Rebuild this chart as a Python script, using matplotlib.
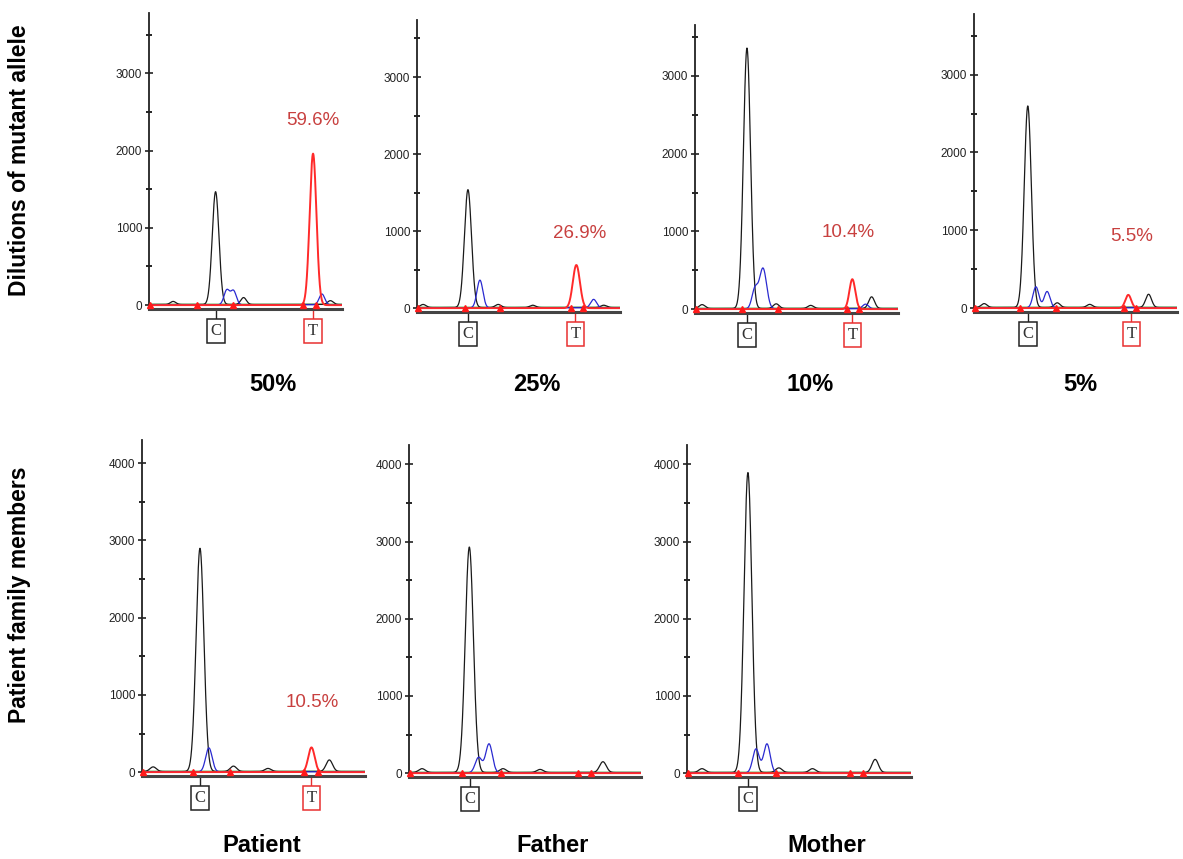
import numpy as np
import matplotlib
matplotlib.use("Agg")
import matplotlib.pyplot as plt
import matplotlib.transforms as mtransforms
from matplotlib.ticker import MultipleLocator

plt.rcParams['font.family'] = ['Liberation Sans', 'DejaVu Sans']

# ---------------- data ----------------
panel_titles = ["50%", "25%", "10%", "5%", "Patient", "Father", "Mother"]
row_titles = ["Dilutions of mutant allele", "Patient family members"]
percent_labels = ["59.6%", "26.9%", "10.4%", "5.5%", "10.5%", None, None]

# black channel (C allele + minor peaks): centres, heights
black_pos = [[12.5, 34.5, 49.0, 94.0],
             [3.0, 25.1, 40.0, 57.0, 92.0],
             [3.5, 25.6, 40.0, 57.0, 87.0],
             [5.0, 26.5, 41.0, 57.0, 86.0],
             [5.0, 26.0, 41.0, 56.5, 84.0],
             [5.6, 26.0, 40.5, 56.5, 83.6],
             [6.7, 27.2, 41.0, 56.0, 84.0]]
black_h = [[40, 1460, 90, 50],
           [40, 1530, 40, 30, 30],
           [50, 3350, 60, 40, 150],
           [50, 2590, 60, 40, 170],
           [60, 2890, 70, 40, 150],
           [50, 2920, 50, 40, 140],
           [50, 3885, 60, 50, 170]]
# blue channel
blue_pos = [[40.3, 43.8, 89.6],
            [31.0, 87.0],
            [29.5, 33.5, 84.0],
            [30.5, 36.0],
            [30.0],
            [30.0, 34.5],
            [30.8, 35.7]]
blue_h = [[190, 180, 140],
          [360, 110],
          [250, 520, 60],
          [270, 210],
          [310],
          [200, 375],
          [310, 375]]
# red channel (T allele)
red_pos = [[85.0], [78.5], [77.5], [76.0], [76.0], [], []]
red_h = [[1960], [560], [385], [170], [320], [], []]

# allele label positions
c_label_pos = [34.7, 25.0, 25.5, 26.5, 26.0, 26.3, 27.2]
t_label_pos = [85.0, 78.0, 77.5, 77.5, 76.0, None, None]
percent_xy = [(85.0, 2390), (80.0, 975), (75.4, 980), (77.8, 915), (76.2, 905), None, None]

# red bin markers on the baseline
marker_pos = [[0.5, 24.9, 43.5, 79.8, 86.5],
              [0.5, 23.6, 41.0, 75.9, 81.7],
              [0.5, 23.0, 41.0, 75.0, 81.0],
              [0.5, 22.7, 40.4, 74.0, 80.0],
              [0.5, 22.9, 39.5, 72.6, 79.0],
              [0.5, 22.8, 39.7, 72.8, 78.4],
              [0.5, 22.8, 39.7, 72.8, 78.6]]

y_top = [3780, 3740, 3655, 3780, 4300, 4250, 4250]

# ---------------- layout (pixels) ----------------
W, H = 1183, 859
boxes = [(149, 342, 309, 13), (417, 620, 312, 20), (695, 898, 313, 25),
         (974, 1177, 312, 14), (142, 365, 776, 440), (409, 641, 777, 445),
         (687, 911, 777, 445)]
title_xy = [(273, 385), (537, 385), (810, 385), (1080, 385),
            (262, 845), (553, 845), (827, 845)]

fig = plt.figure(figsize=(W / 100, H / 100), dpi=100)

xs = np.linspace(0, 100, 2001)


def trace(pos, hts, sig_big=1.75, sig_small=1.45):
    y = np.zeros_like(xs)
    for c, h in zip(pos, hts):
        s = sig_big if h > 400 else sig_small
        y += h * np.exp(-0.5 * ((xs - c) / s) ** 2)
    return y


for i in range(7):
    l, r, b, t = boxes[i]
    ax = fig.add_axes([l / W, 1 - b / H, (r - l) / W, (b - t) / H])
    ax.set_xlim(0, 100)
    ax.set_ylim(-50, y_top[i])
    for s in ['top', 'right']:
        ax.spines[s].set_visible(False)
    ax.spines['left'].set_linewidth(1.3)
    ax.spines['left'].set_color('#222222')
    ax.spines['bottom'].set_linewidth(2.2)
    ax.spines['bottom'].set_color('#444444')
    ax.set_xticks([])
    ax.yaxis.set_major_locator(MultipleLocator(1000))
    ax.yaxis.set_minor_locator(MultipleLocator(500))
    ax.tick_params(axis='y', which='major', direction='inout', length=6,
                   width=1.2, labelsize=8.5, pad=2, colors='#222222')
    ax.tick_params(axis='y', which='minor', direction='inout', length=5,
                   width=1.2)

    # traces
    ax.plot(xs, np.full_like(xs, 12.0), color='#2ca02c', lw=0.8)
    ax.plot(xs, 8 + trace(black_pos[i], black_h[i]), color='#1a1a1a', lw=0.9)
    ax.plot(xs, 4 + trace(blue_pos[i], blue_h[i]), color='#2a2ad0', lw=0.9)
    ax.plot(xs, trace(red_pos[i], red_h[i]), color='#ff2a2a', lw=1.4)
    ax.plot(marker_pos[i], [0] * len(marker_pos[i]), linestyle='none',
            marker='^', ms=4, color='#ff1a1a', clip_on=False, zorder=5)

    # allele boxes
    tr = mtransforms.blended_transform_factory(ax.transData, ax.transAxes)
    px = 1.0 / (b - t)
    labs = [(c_label_pos[i], 'C', '#222222')]
    if t_label_pos[i] is not None:
        labs.append((t_label_pos[i], 'T', '#e83030'))
    for xpos, txt, col in labs:
        ax.plot([xpos, xpos], [0, -9 * px], transform=tr, color=col,
                lw=1.0, clip_on=False)
        ax.text(xpos, -22 * px, txt, transform=tr, ha='center', va='center',
                fontsize=12, family='Liberation Serif', color='#333333',
                bbox=dict(boxstyle='square,pad=0.22', fc='white', ec=col, lw=1.1),
                clip_on=False)
    if percent_labels[i]:
        ax.text(percent_xy[i][0], percent_xy[i][1], percent_labels[i],
                ha='center', va='center', fontsize=13.5, color='#c8403f')

    fig.text(title_xy[i][0] / W, 1 - title_xy[i][1] / H, panel_titles[i],
             ha='center', va='center', fontsize=17, fontweight='bold')

for txt, yc in zip(row_titles, [160, 595]):
    fig.text(20 / W, 1 - yc / H, txt, rotation=90, ha='center',
             va='center', fontsize=16.5, fontweight='bold')

fig.savefig('out.png', dpi=100)
